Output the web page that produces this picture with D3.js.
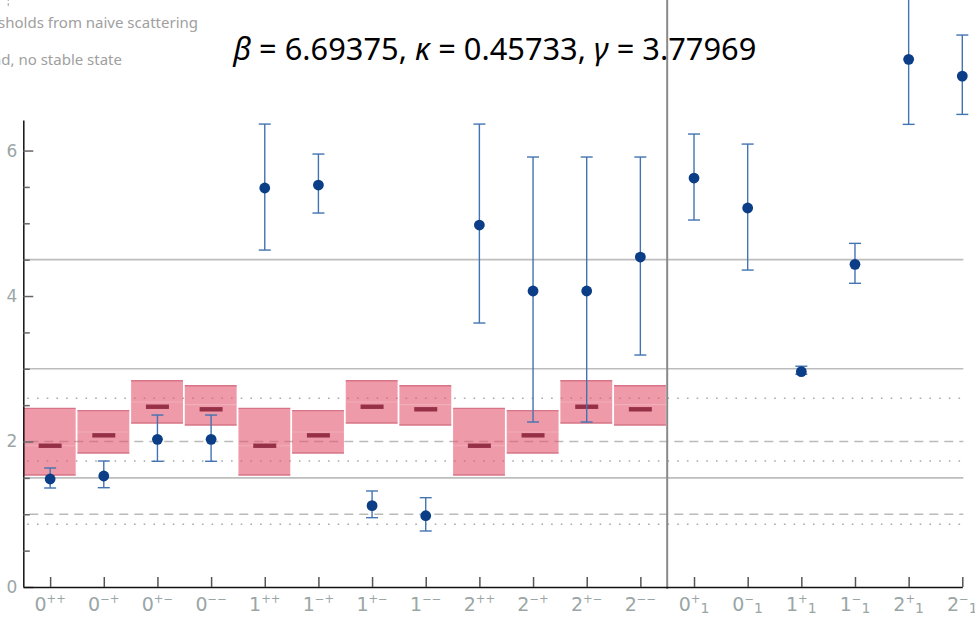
<!DOCTYPE html>
<html>
<head>
<meta charset="utf-8">
<script src="https://cdn.jsdelivr.net/npm/d3@7"></script>
<style>
  html, body { margin: 0; padding: 0; background: #fff; }
  svg { display: block; }
</style>
</head>
<body>
<svg id="chart" width="975" height="619"></svg>
<script>
// Channel labels: base spin, parity/charge superscript, optional subscript
const labelBase = ["0", "0", "0", "0", "1", "1", "1", "1", "2", "2", "2", "2", "0", "0", "1", "1", "2", "2"];
const labelSup  = ["++", "\u2212+", "+\u2212", "\u2212\u2212", "++", "\u2212+", "+\u2212", "\u2212\u2212",
                   "++", "\u2212+", "+\u2212", "\u2212\u2212", "+", "\u2212", "+", "\u2212", "+", "\u2212"];
const labelSub  = ["", "", "", "", "", "", "", "", "", "", "", "", "1", "1", "1", "1", "1", "1"];

// Fitted masses with their lower / upper error limits
const mass    = [1.485, 1.526, 2.030, 2.030, 5.485, 5.526, 1.118, 0.980, 4.976, 4.069, 4.069, 4.536,
                 5.622, 5.210, 2.960, 4.436, 7.254, 7.024];
const errLow  = [1.361, 1.365, 1.728, 1.728, 4.632, 5.141, 0.953, 0.770, 3.629, 2.268, 2.268, 3.189,
                 5.045, 4.357, 2.925, 4.175, 6.360, 6.497];
const errHigh = [1.636, 1.732, 2.364, 2.364, 6.364, 5.952, 1.320, 1.228, 6.364, 5.911, 5.911, 5.911,
                 6.227, 6.089, 3.035, 4.724, 8.300, 7.588];

// Two-particle threshold bands for the first twelve channels
const bandLow  = [1.540, 1.842, 2.254, 2.227, 1.540, 1.842, 2.254, 2.227, 1.540, 1.842, 2.254, 2.227];
const bandHigh = [2.456, 2.424, 2.836, 2.767, 2.456, 2.424, 2.836, 2.767, 2.456, 2.424, 2.836, 2.767];
const bandMid  = [1.942, 2.085, 2.478, 2.443, 1.942, 2.085, 2.478, 2.443, 1.942, 2.085, 2.478, 2.443];
const bandSplit = [1.942, 2.131, 2.543, 2.506, 1.942, 2.131, 2.543, 2.506, 1.942, 2.131, 2.543, 2.506];

// Reference levels
const solidLevels  = [1.5, 3.0, 4.5];
const dashedLevels = [1.0, 2.0];
const dottedLevels = [0.862, 1.732, 2.594];

// Axis ticks
const majorTicks = [0, 2, 4, 6];
const minorTicks = [0.5, 1, 1.5, 2.5, 3, 3.5, 4.5, 5, 5.5];

const svg = d3.select("#chart");
const plotLeft = 23.3, plotRight = 962.3, plotBottom = 587, plotTop = 120;

const x = d3.scaleLinear().domain([-0.5, labelBase.length - 1]).range([plotLeft, plotRight]);
const y = d3.scaleLinear().domain([0, 6.42]).range([plotBottom, plotTop]);
const step = x(1) - x(0);

const labelColor = "#9aa6a6";

// Reference lines
const grid = svg.append("g");
grid.selectAll(".solid").data(solidLevels).join("line")
  .attr("x1", plotLeft).attr("x2", plotRight + 1)
  .attr("y1", d => y(d)).attr("y2", d => y(d))
  .attr("stroke", "#bdbdbd").attr("stroke-width", 1.6);
grid.selectAll(".dashed").data(dashedLevels).join("line")
  .attr("x1", plotLeft).attr("x2", plotRight + 1)
  .attr("y1", d => y(d)).attr("y2", d => y(d))
  .attr("stroke", "#bababa").attr("stroke-width", 1.7)
  .attr("stroke-dasharray", "9,6").attr("stroke-dashoffset", -6);
grid.selectAll(".dotted").data(dottedLevels).join("line")
  .attr("x1", plotLeft).attr("x2", plotRight + 1)
  .attr("y1", d => y(d)).attr("y2", d => y(d))
  .attr("stroke", "#a9a9a9").attr("stroke-width", 1.6)
  .attr("stroke-dasharray", "1.6,8.1").attr("stroke-dashoffset", -4);

// Threshold bands
const bands = svg.append("g");
bandLow.forEach((lo, i) => {
  const g = bands.append("g");
  g.append("rect")
    .attr("x", x(i) - step / 2 + 0.5)
    .attr("width", step - 1.8)
    .attr("y", y(bandHigh[i]))
    .attr("height", y(lo) - y(bandHigh[i]))
    .attr("fill", "#e5566f").attr("fill-opacity", 0.6);
  [bandHigh[i], lo].forEach(v => {
    g.append("line")
      .attr("x1", x(i) - step / 2 + 0.5).attr("x2", x(i) + step / 2 - 1.3)
      .attr("y1", y(v)).attr("y2", y(v))
      .attr("stroke", "#d77487").attr("stroke-width", 1.4);
  });
  g.append("line")
    .attr("x1", x(i) - step / 2 + 0.5).attr("x2", x(i) + step / 2 - 1.3)
    .attr("y1", y(bandSplit[i])).attr("y2", y(bandSplit[i]))
    .attr("stroke", "#ffffff").attr("stroke-opacity", 0.2).attr("stroke-width", 1.2);
  g.append("rect")
    .attr("x", x(i) - 11.5).attr("width", 23)
    .attr("y", y(bandMid[i]) - 2.2).attr("height", 4.4)
    .attr("fill", "#953047");
});

// Divider between the two channel groups
svg.append("line")
  .attr("x1", x(11.5)).attr("x2", x(11.5))
  .attr("y1", 0).attr("y2", plotBottom + 2)
  .attr("stroke", "#8a8a8a").attr("stroke-width", 2);

// Axes
const yMajor = svg.append("g").attr("transform", `translate(${plotLeft},0)`)
  .call(d3.axisLeft(y).tickValues(majorTicks).tickSize(-10).tickSizeOuter(0).tickPadding(6).tickFormat(d3.format("d")));
yMajor.select(".domain").attr("stroke", "#111").attr("stroke-width", 1.5);
yMajor.selectAll(".tick line").attr("stroke", "#666").attr("stroke-width", 1.5);
yMajor.selectAll(".tick text")
  .attr("fill", labelColor).attr("font-family", "'DejaVu Sans', sans-serif").attr("font-size", 17);

const yMinor = svg.append("g").attr("transform", `translate(${plotLeft},0)`)
  .call(d3.axisLeft(y).tickValues(minorTicks).tickSize(-6.5).tickSizeOuter(0).tickFormat(""));
yMinor.select(".domain").remove();
yMinor.selectAll(".tick line").attr("stroke", "#666").attr("stroke-width", 1.5);

const xAxis = svg.append("g").attr("transform", `translate(0,${plotBottom})`)
  .call(d3.axisBottom(x).tickValues(d3.range(labelBase.length)).tickSize(-10).tickSizeOuter(0).tickFormat(""));
xAxis.select(".domain").attr("stroke", "#111").attr("stroke-width", 1.5);
xAxis.selectAll(".tick line").attr("stroke", "#555").attr("stroke-width", 1.5);

// Channel labels
const xl = svg.append("g")
  .attr("font-family", "'DejaVu Sans', sans-serif").attr("fill", labelColor);
labelBase.forEach((b, i) => {
  const t = xl.append("text").attr("x", x(i)).attr("y", 611).attr("text-anchor", "middle");
  t.append("tspan").attr("font-size", 19).text(b);
  t.append("tspan").attr("font-size", 11.5).attr("dy", -8).text(labelSup[i]);
  if (labelSub[i]) t.append("tspan").attr("font-size", 14).attr("dy", 10).text(labelSub[i]);
});

// Error bars and fitted masses
const pts = svg.append("g");
mass.forEach((m, i) => {
  const cx = x(i);
  pts.append("line").attr("x1", cx).attr("x2", cx)
    .attr("y1", y(errLow[i])).attr("y2", y(errHigh[i]))
    .attr("stroke", "#4273b2").attr("stroke-width", 1.4);
  [errLow[i], errHigh[i]].forEach(v => {
    pts.append("line").attr("x1", cx - 6).attr("x2", cx + 6)
      .attr("y1", y(v)).attr("y2", y(v))
      .attr("stroke", "#4273b2").attr("stroke-width", 1.4);
  });
  pts.append("circle").attr("cx", cx).attr("cy", y(m)).attr("r", 5.4).attr("fill", "#0b3e86");
});

// Title with the lattice parameters
const title = svg.append("text")
  .attr("x", (plotLeft + plotRight) / 2 + 2).attr("y", 60).attr("text-anchor", "middle")
  .attr("font-family", "'Noto Sans', sans-serif").attr("font-size", 30.8).attr("fill", "#000");
[["\u03B2", true], [" = 6.69375, ", false], ["\u03BA", true], [" = 0.45733, ", false],
 ["\u03B3", true], [" = 3.77969", false]].forEach(([s, it]) => {
  title.append("tspan").attr("font-style", it ? "italic" : "normal").text(s);
});

// Legend entries
const legend = svg.append("g")
  .attr("font-family", "'Noto Sans', sans-serif").attr("font-size", 15).attr("fill", "#a0a0a0");
legend.append("line").attr("x1", 8.3).attr("x2", 8.3).attr("y1", -2).attr("y2", 8)
  .attr("stroke", "#b5b5b5").attr("stroke-width", 1.3).attr("stroke-dasharray", "3,2");
legend.append("text").attr("x", 198).attr("y", 27.5).attr("text-anchor", "end")
  .text("Thresholds from naive scattering");
legend.append("text").attr("x", 122).attr("y", 65).attr("text-anchor", "end")
  .text("Unbound, no stable state");
</script>
</body>
</html>
